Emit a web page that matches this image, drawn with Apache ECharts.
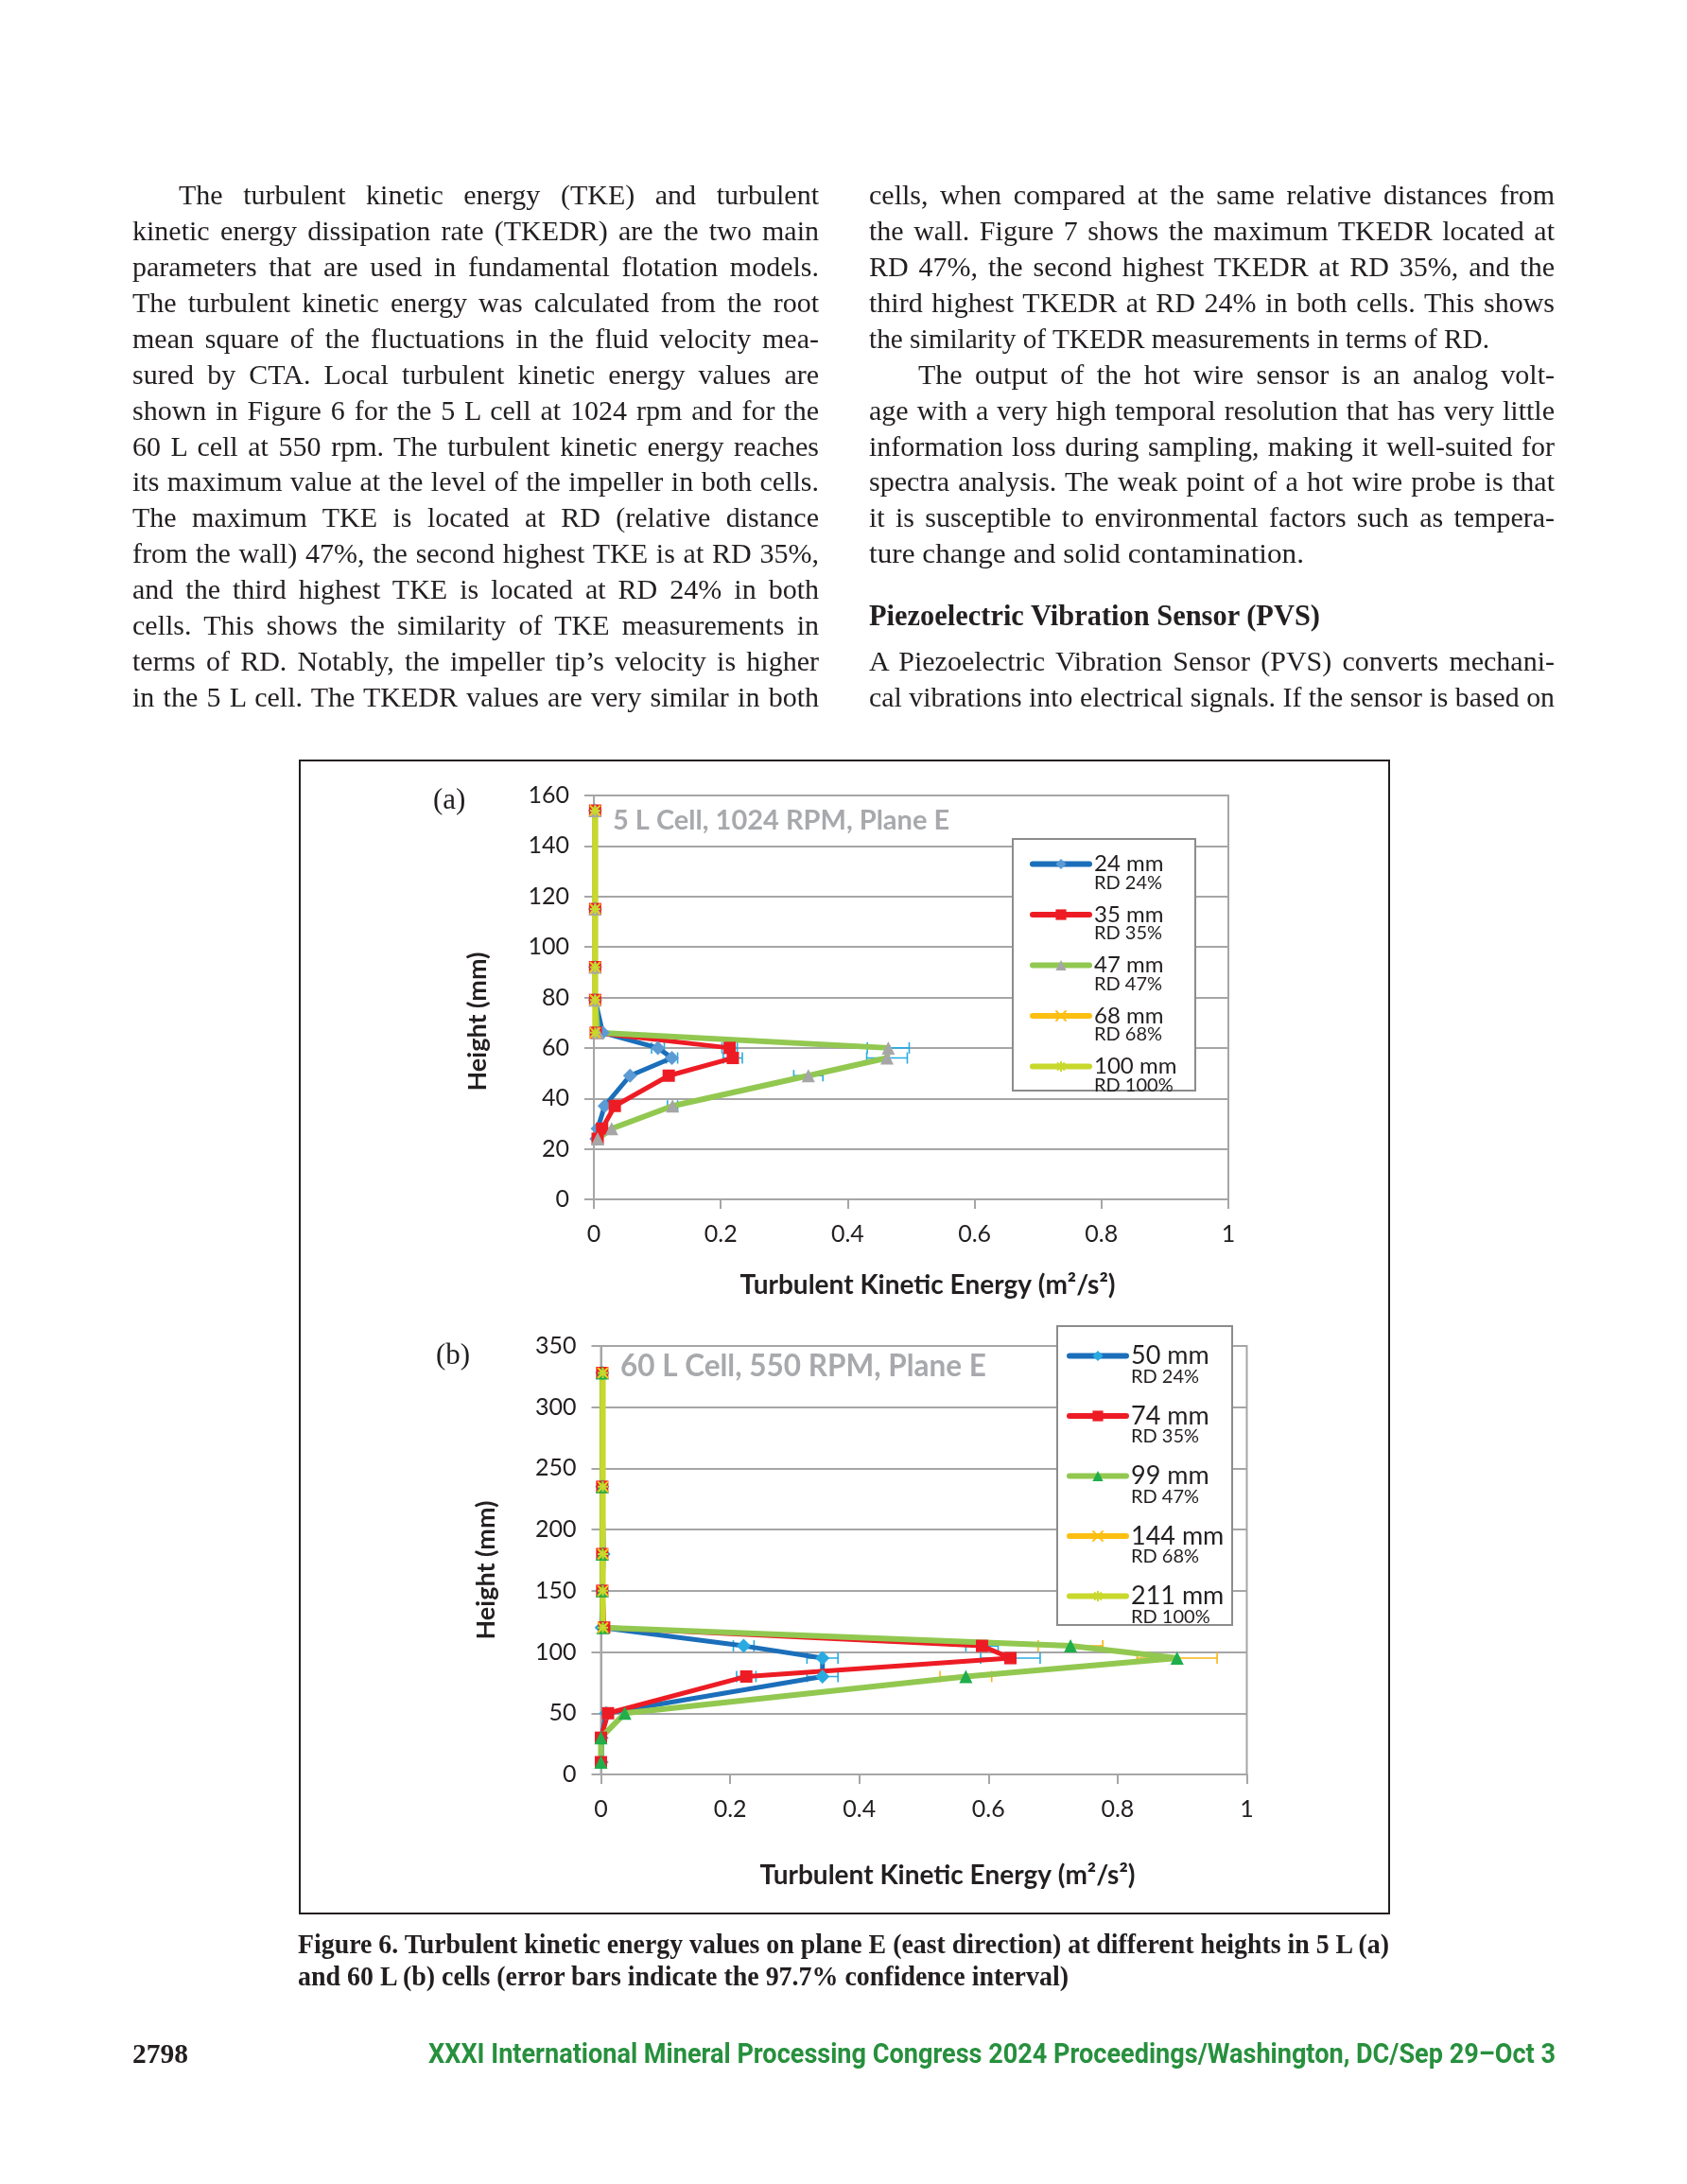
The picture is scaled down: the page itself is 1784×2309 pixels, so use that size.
<!DOCTYPE html>
<html><head><meta charset="utf-8">
<script src="https://cdn.jsdelivr.net/npm/echarts@6/dist/echarts.min.js"></script>
<style>
html,body{margin:0;padding:0;background:#fff;}
#page{position:relative;width:1784px;height:2309px;overflow:hidden;background:#fff;}
#chart{position:absolute;left:0;top:0;width:1784px;height:2309px;z-index:1;}
#frame{position:absolute;left:316px;top:803px;width:1150px;height:1217px;border:2px solid #231f20;z-index:0;}
.ln{position:absolute;white-space:nowrap;font-family:"Liberation Serif",serif;font-size:30px;line-height:36px;height:36px;color:#231f20;z-index:2;}
.ln span{display:inline-block;transform-origin:0 50%;}
</style></head>
<body><div id="page"><div id="frame"></div><div id="chart"></div></div>
<script>
// ---------- chart data (a): 5 L cell, 1024 RPM ----------
const heightsA = [154, 115, 92, 79, 66, 60, 56, 49, 37, 28, 24];
const heightsAUpper = [154, 115, 92, 79, 66];
const namesA = ['24 mm', '35 mm', '47 mm', '68 mm', '100 mm'];
const rdA = ['RD 24%', 'RD 35%', 'RD 47%', 'RD 68%', 'RD 100%'];
const tkeA24 = [0.002, 0.002, 0.002, 0.002, 0.014, 0.101, 0.123, 0.057, 0.017, 0.006, 0.004];
const tkeA35 = [0.002, 0.002, 0.002, 0.002, 0.003, 0.214, 0.219, 0.118, 0.033, 0.013, 0.006];
const tkeA47 = [0.002, 0.002, 0.002, 0.002, 0.006, 0.464, 0.462, 0.338, 0.124, 0.028, 0.006];
const tkeA68 = [0.002, 0.002, 0.002, 0.002, 0.002];
const tkeA100 = [0.002, 0.002, 0.002, 0.002, 0.002];
const errA24 = [0, 0, 0, 0, 0, 0.010, 0.009, 0, 0, 0, 0];
const errA35 = [0, 0, 0, 0, 0, 0.012, 0.015, 0.006, 0, 0, 0];
const errA47 = [0, 0, 0, 0, 0, 0.033, 0.032, 0.023, 0.008, 0, 0];

// ---------- chart data (b): 60 L cell, 550 RPM ----------
const heightsB = [328, 235, 180, 150, 120, 105, 95, 80, 50, 30, 10];
const heightsBUpper = [328, 235, 180, 150, 120];
const namesB = ['50 mm', '74 mm', '99 mm', '144 mm', '211 mm'];
const rdB = ['RD 24%', 'RD 35%', 'RD 47%', 'RD 68%', 'RD 100%'];
const tkeB50 = [0.002, 0.002, 0.004, 0.002, 0.001, 0.221, 0.343, 0.343, 0.008, 0.001, 0.001];
const tkeB74 = [0.002, 0.002, 0.002, 0.002, 0.005, 0.590, 0.634, 0.225, 0.011, 0.000, 0.000];
const tkeB99 = [0.002, 0.002, 0.002, 0.002, 0.003, 0.727, 0.892, 0.565, 0.037, 0.000, 0.000];
const tkeB144 = [0.003, 0.003, 0.003, 0.003, 0.003];
const tkeB211 = [0.003, 0.003, 0.003, 0.003, 0.003];
const errB50 = [0, 0, 0, 0, 0, 0.016, 0.024, 0.024, 0, 0, 0];
const errB74 = [0, 0, 0, 0, 0, 0.025, 0.046, 0.015, 0, 0, 0];
const errB99 = [0, 0, 0, 0, 0, 0.050, 0.062, 0.040, 0, 0, 0];

const xTicks = [0, 0.2, 0.4, 0.6, 0.8, 1];

// ---------- page text ----------
const leftLines = [
 "The turbulent kinetic energy (TKE) and turbulent",
 "kinetic energy dissipation rate (TKEDR) are the two main",
 "parameters that are used in fundamental flotation models.",
 "The turbulent kinetic energy was calculated from the root",
 "mean square of the fluctuations in the fluid velocity mea-",
 "sured by CTA. Local turbulent kinetic energy values are",
 "shown in Figure 6 for the 5 L cell at 1024 rpm and for the",
 "60 L cell at 550 rpm. The turbulent kinetic energy reaches",
 "its maximum value at the level of the impeller in both cells.",
 "The maximum TKE is located at RD (relative distance",
 "from the wall) 47%, the second highest TKE is at RD 35%,",
 "and the third highest TKE is located at RD 24% in both",
 "cells. This shows the similarity of TKE measurements in",
 "terms of RD. Notably, the impeller tip\u2019s velocity is higher",
 "in the 5 L cell. The TKEDR values are very similar in both"
];
const rightLines = [
 "cells, when compared at the same relative distances from",
 "the wall. Figure 7 shows the maximum TKEDR located at",
 "RD 47%, the second highest TKEDR at RD 35%, and the",
 "third highest TKEDR at RD 24% in both cells. This shows",
 "the similarity of TKEDR measurements in terms of RD.",
 "The output of the hot wire sensor is an analog volt-",
 "age with a very high temporal resolution that has very little",
 "information loss during sampling, making it well-suited for",
 "spectra analysis. The weak point of a hot wire probe is that",
 "it is susceptible to environmental factors such as tempera-",
 "ture change and solid contamination."
];
const headingText = "Piezoelectric Vibration Sensor (PVS)";
const rightLines2 = [
 "A Piezoelectric Vibration Sensor (PVS) converts mechani-",
 "cal vibrations into electrical signals. If the sensor is based on"
];
const captionLines = [
 "Figure 6. Turbulent kinetic energy values on plane E (east direction) at different heights in 5 L (a)",
 "and 60 L (b) cells (error bars indicate the 97.7% confidence interval)"
];
const pageNumber = "2798";
const footerText = "XXXI International Mineral Processing Congress 2024 Proceedings/Washington, DC/Sep 29\u2013Oct 3";

const page = document.getElementById('page');
function addLine(text, x, yc, w, mode, extra) {
  const d = document.createElement('div');
  d.className = 'ln';
  d.style.left = x + 'px';
  d.style.top = (yc - 18) + 'px';
  if (extra) Object.assign(d.style, extra);
  const s = document.createElement('span');
  s.textContent = text;
  d.appendChild(s);
  page.appendChild(d);
  const nat = s.getBoundingClientRect().width;
  if (mode === 'j' && nat < w) {
    const n = (text.match(/ /g) || []).length;
    if (n) s.style.wordSpacing = ((w - nat) / n) + 'px';
  } else {
    s.style.transform = 'scaleX(' + (w / nat) + ')';
  }
}
const row0 = 206.2, rowH = 37.9;
leftLines.forEach((t, i) => {
  const x = i === 0 ? 189 : 140;
  addLine(t, x, row0 + i * rowH, 866 - x, 'j');
});
rightLines.forEach((t, i) => {
  let x = 919, w = 1644 - 919, mode = 'j';
  if (i === 5) { x = 971; w = 1644 - 971; }
  if (i === 4) { w = 1575 - 919; mode = 's'; }
  if (i === 10) { w = 1379 - 919; mode = 's'; }
  addLine(t, x, row0 + i * rowH, w, mode);
});
addLine(headingText, 919, 651, 1396 - 919, 's', {fontWeight: 'bold', fontSize: '31px'});
rightLines2.forEach((t, i) => addLine(t, 919, row0 + (13 + i) * rowH, 1644 - 919, 'j'));
addLine(captionLines[0], 315, 2055, 1469 - 315, 's', {fontWeight: 'bold', fontSize: '30px'});
addLine(captionLines[1], 315, 2089, 1130 - 315, 's', {fontWeight: 'bold', fontSize: '30px'});
addLine(pageNumber, 140, 2171, 59, 's', {fontWeight: 'bold', fontSize: '30px'});
addLine(footerText, 453, 2171, 1645 - 453, 's', {fontWeight: 'bold', fontFamily: 'Roboto, sans-serif', fontSize: '29px', color: '#27903d'});

// ---------- chart ----------
const FONT = 'Lato';
const INK = '#231f20';
const GRID = '#a6a6a6';
const chart = echarts.init(document.getElementById('chart'), null, {renderer: 'canvas'});

const pairs = (xs, ys) => xs.map((v, i) => [v, ys[i]]);
const xPath = 'path://M0,0L10,10M10,0L0,10';
const starPath = 'path://M5,0L5,10M0,5L10,5M1.5,1.5L8.5,8.5M8.5,1.5L1.5,8.5';

function lineSeries(name, gi, xs, ys, lineColor, width, symbol, symColor, symSize, stroke) {
  return {
    name, type: 'line', xAxisIndex: gi, yAxisIndex: gi, data: pairs(xs, ys),
    symbol, symbolSize: symSize, showSymbol: true, showAllSymbol: true, animation: false,
    lineStyle: {color: lineColor, width, cap: 'round', join: 'round'},
    itemStyle: stroke ? {color: symColor, borderColor: symColor, borderWidth: 2} : {color: symColor, borderWidth: 0},
    z: 3, clip: false
  };
}
function errSeries(gi, xs, ys, es, color) {
  return {
    type: 'custom', xAxisIndex: gi, yAxisIndex: gi, z: 2, silent: true, animation: false,
    data: xs.map((v, i) => [v, ys[i], es[i]]).filter(d => d[2] > 0),
    encode: {x: 0, y: 1},
    renderItem: (params, api) => {
      const x = api.value(0), y = api.value(1), e = api.value(2);
      const p1 = api.coord([x - e, y]), p2 = api.coord([x + e, y]);
      const h = 6, st = {stroke: color, lineWidth: 1.6};
      return {type: 'group', children: [
        {type: 'line', shape: {x1: p1[0], y1: p1[1], x2: p2[0], y2: p2[1]}, style: st},
        {type: 'line', shape: {x1: p1[0], y1: p1[1] - h, x2: p1[0], y2: p1[1] + h}, style: st},
        {type: 'line', shape: {x1: p2[0], y1: p2[1] - h, x2: p2[0], y2: p2[1] + h}, style: st}
      ]};
    }
  };
}

function xAxisCfg(gi) {
  return {
    gridIndex: gi, type: 'value', min: 0, max: 1, interval: 0.2,
    axisLine: {show: true, lineStyle: {color: GRID, width: 2}},
    axisTick: {show: true, length: 10, lineStyle: {color: GRID, width: 2}},
    splitLine: {show: false},
    axisLabel: {margin: 24, fontSize: 25, color: INK, fontFamily: FONT,
      formatter: v => { const t = xTicks.find(k => Math.abs(k - v) < 1e-9); return t === undefined ? '' : String(t); }}
  };
}
function yAxisCfg(gi, max, interval) {
  return {
    gridIndex: gi, type: 'value', min: 0, max, interval,
    axisLine: {show: true, lineStyle: {color: GRID, width: 2}},
    axisTick: {show: true, length: 10, lineStyle: {color: GRID, width: 2}},
    splitLine: {show: true, lineStyle: {color: GRID, width: 2}},
    axisLabel: {margin: 26, fontSize: 25, color: INK, fontFamily: FONT}
  };
}
function legendCfg(names, rds, left, top, sH, aH, bH, aSize, bSize, gap) {
  const map = {};
  names.forEach((n, i) => map[n] = rds[i]);
  return {
    data: names, orient: 'vertical', left, top, padding: 0, itemGap: gap,
    itemWidth: 60, itemHeight: 14, selectedMode: false, z: 6,
    lineStyle: {width: 6, cap: 'round'},
    formatter: n => '{s|.}\n{a|' + n + '}\n{b|' + map[n] + '}',
    textStyle: {color: INK, fontFamily: FONT, rich: {
      s: {fontSize: 6, lineHeight: sH, height: sH, color: 'rgba(0,0,0,0)'},
      a: {fontSize: aSize, lineHeight: aH, fontFamily: FONT, color: INK},
      b: {fontSize: bSize, lineHeight: bH, fontFamily: FONT, color: INK}
    }}
  };
}
function axisTitle(text, x, y, rot) {
  return {type: 'text', x, y, rotation: rot ? Math.PI / 2 : 0, z: 5,
    style: {text, font: 'bold ' + (rot ? 27 : 28) + 'px Lato', fill: INK, align: 'center', verticalAlign: 'middle'}};
}

const C = {blue: '#1b6fba', blueA: '#5b9bd5', blueB: '#29abe2', red: '#ed1c24', green: '#92c850',
  grayTri: '#a6a6a6', greenTri: '#1fae4b', yellow: '#fdbf12', ygreen: '#c8d82c', errBlue: '#29abe2', errOrange: '#f8b617'};
const XT = 'Turbulent Kinetic Energy (m\u00b2/s\u00b2)';

const option = {
  backgroundColor: 'transparent',
  animation: false,
  grid: [
    {left: 628, top: 841, width: 671, height: 427, show: true, borderColor: GRID, borderWidth: 2, backgroundColor: 'transparent'},
    {left: 635.5, top: 1423, width: 683, height: 453, show: true, borderColor: GRID, borderWidth: 2, backgroundColor: 'transparent'}
  ],
  xAxis: [xAxisCfg(0), xAxisCfg(1)],
  yAxis: [yAxisCfg(0, 160, 20), yAxisCfg(1, 350, 50)],
  title: [
    {text: '5 L Cell, 1024 RPM, Plane E', left: 648, top: 853, padding: 0,
      textStyle: {fontSize: 29, fontWeight: 'bold', color: '#a7a9ac', fontFamily: FONT}},
    {text: '60 L Cell, 550 RPM, Plane E', left: 656, top: 1429, padding: 0,
      textStyle: {fontSize: 31.5, fontWeight: 'bold', color: '#a7a9ac', fontFamily: FONT}}
  ],
  legend: [
    legendCfg(namesA, rdA, 1089, 887, 13, 27, 13, 24, 20, -3),
    legendCfg(namesB, rdB, 1128, 1402, 19, 25, 19, 27, 20, 0)
  ],
  graphic: [
    {type: 'rect', z: 5, shape: {x: 1071, y: 887, width: 193, height: 266}, style: {fill: '#fff', stroke: '#8c8c8c', lineWidth: 2}},
    {type: 'rect', z: 5, shape: {x: 1118, y: 1402, width: 185, height: 316}, style: {fill: '#fff', stroke: '#8c8c8c', lineWidth: 2}},
    {type: 'text', x: 458, y: 831, z: 5, style: {text: '(a)', font: '31px "Liberation Serif"', fill: INK}},
    {type: 'text', x: 461, y: 1418, z: 5, style: {text: '(b)', font: '31px "Liberation Serif"', fill: INK}},
    axisTitle(XT, 981, 1359, false),
    axisTitle(XT, 1002, 1983, false),
    axisTitle('Height (mm)', 505, 1080, true),
    axisTitle('Height (mm)', 514, 1660, true)
  ],
  series: [
    errSeries(0, tkeA24, heightsA, errA24, C.errBlue),
    errSeries(0, tkeA35, heightsA, errA35, C.errBlue),
    errSeries(0, tkeA47, heightsA, errA47, C.errBlue),
    lineSeries(namesA[0], 0, tkeA24, heightsA, C.blue, 5, 'diamond', C.blueA, 15),
    lineSeries(namesA[1], 0, tkeA35, heightsA, C.red, 5, 'rect', C.red, 13),
    lineSeries(namesA[2], 0, tkeA47, heightsA, C.green, 6, 'triangle', C.grayTri, 14),
    lineSeries(namesA[3], 0, tkeA68, heightsAUpper, C.yellow, 5, xPath, C.yellow, 11, true),
    lineSeries(namesA[4], 0, tkeA100, heightsAUpper, C.ygreen, 6, starPath, C.ygreen, 11, true),
    errSeries(1, tkeB50, heightsB, errB50, C.errBlue),
    errSeries(1, tkeB74, heightsB, errB74, C.errBlue),
    errSeries(1, tkeB99, heightsB, errB99, C.errOrange),
    lineSeries(namesB[0], 1, tkeB50, heightsB, C.blue, 5, 'diamond', C.blueB, 15),
    lineSeries(namesB[1], 1, tkeB74, heightsB, C.red, 5, 'rect', C.red, 13),
    lineSeries(namesB[2], 1, tkeB99, heightsB, C.green, 6, 'triangle', C.greenTri, 14),
    lineSeries(namesB[3], 1, tkeB144, heightsBUpper, C.yellow, 5, xPath, C.yellow, 11, true),
    lineSeries(namesB[4], 1, tkeB211, heightsBUpper, C.ygreen, 6, starPath, C.ygreen, 11, true)
  ]
};
chart.setOption(option);
</script></body></html>
